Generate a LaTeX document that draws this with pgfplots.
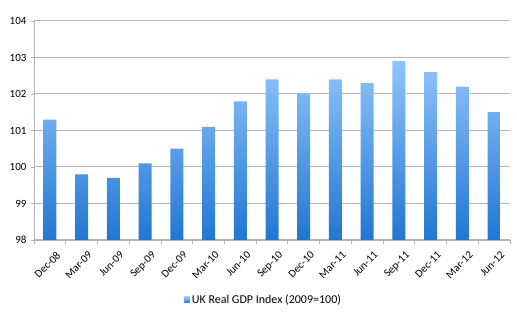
\documentclass[border=0pt]{standalone}
\usepackage{pgfplots}
\usepackage{pgfplotstable}
\pgfplotsset{compat=1.18}
\usepackage{fontspec}
\setmainfont{Carlito}
\definecolor{bartop}{HTML}{92C4FC}
\definecolor{barbot}{HTML}{2176D2}
\definecolor{gridc}{HTML}{B4B4B4}
\pgfplotstableread{
x y
0 101.3
1 99.8
2 99.7
3 100.1
4 100.5
5 101.1
6 101.8
7 102.4
8 102.0
9 102.4
10 102.3
11 102.9
12 102.6
13 102.2
14 101.5
}\gdp
\begin{document}
\begin{tikzpicture}
\begin{axis}[
  name=ax,
  scale only axis,
  width=476pt, height=219pt,
  xmin=-0.5, xmax=14.5,
  ymin=0, ymax=6,
  ytick={0,1,2,3,4,5,6},
  yticklabels={98,99,100,101,102,103,104},
  xtick=data,
  xticklabels={Dec-08,Mar-09,Jun-09,Sep-09,Dec-09,Mar-10,Jun-10,Sep-10,Dec-10,Mar-11,Jun-11,Sep-11,Dec-11,Mar-12,Jun-12},
  x tick label style={xshift=6pt, yshift=-3pt, rotate=45, anchor=north east, font=\fontsize{11}{12}\selectfont},
  y tick label style={font=\fontsize{11}{12}\selectfont, xshift=-1pt},
  major x tick style={draw=none},
  minor xtick={-0.5,0.5,...,14.5},
  minor tick length=4pt,
  major tick length=3pt,
  tick align=outside,
  xtick pos=bottom, ytick pos=left,
  tick style={gridc, line width=0.8pt},
  axis lines*=left,
  axis line style={gridc, line width=0.8pt},
  ymajorgrids,
  grid style={gridc, line width=1pt},
  legend style={at={(0.482,-0.274)}, anchor=center, draw=none, font=\fontsize{12}{14}\selectfont},
  legend image code/.code={\fill[top color=bartop, bottom color=barbot] (0pt,-3pt) rectangle (6pt,3pt);},
]
\addplot[ybar, bar width=13pt, draw=none, top color=bartop, bottom color=barbot]
  table[x=x, y expr=\thisrow{y}-98] {\gdp};
\addlegendentry{UK Real GDP Index (2009=100)}
\end{axis}
\path ([shift={(-34pt,21pt)}]ax.north west) rectangle ([shift={(7pt,-85pt)}]ax.south east);
\end{tikzpicture}
\end{document}
